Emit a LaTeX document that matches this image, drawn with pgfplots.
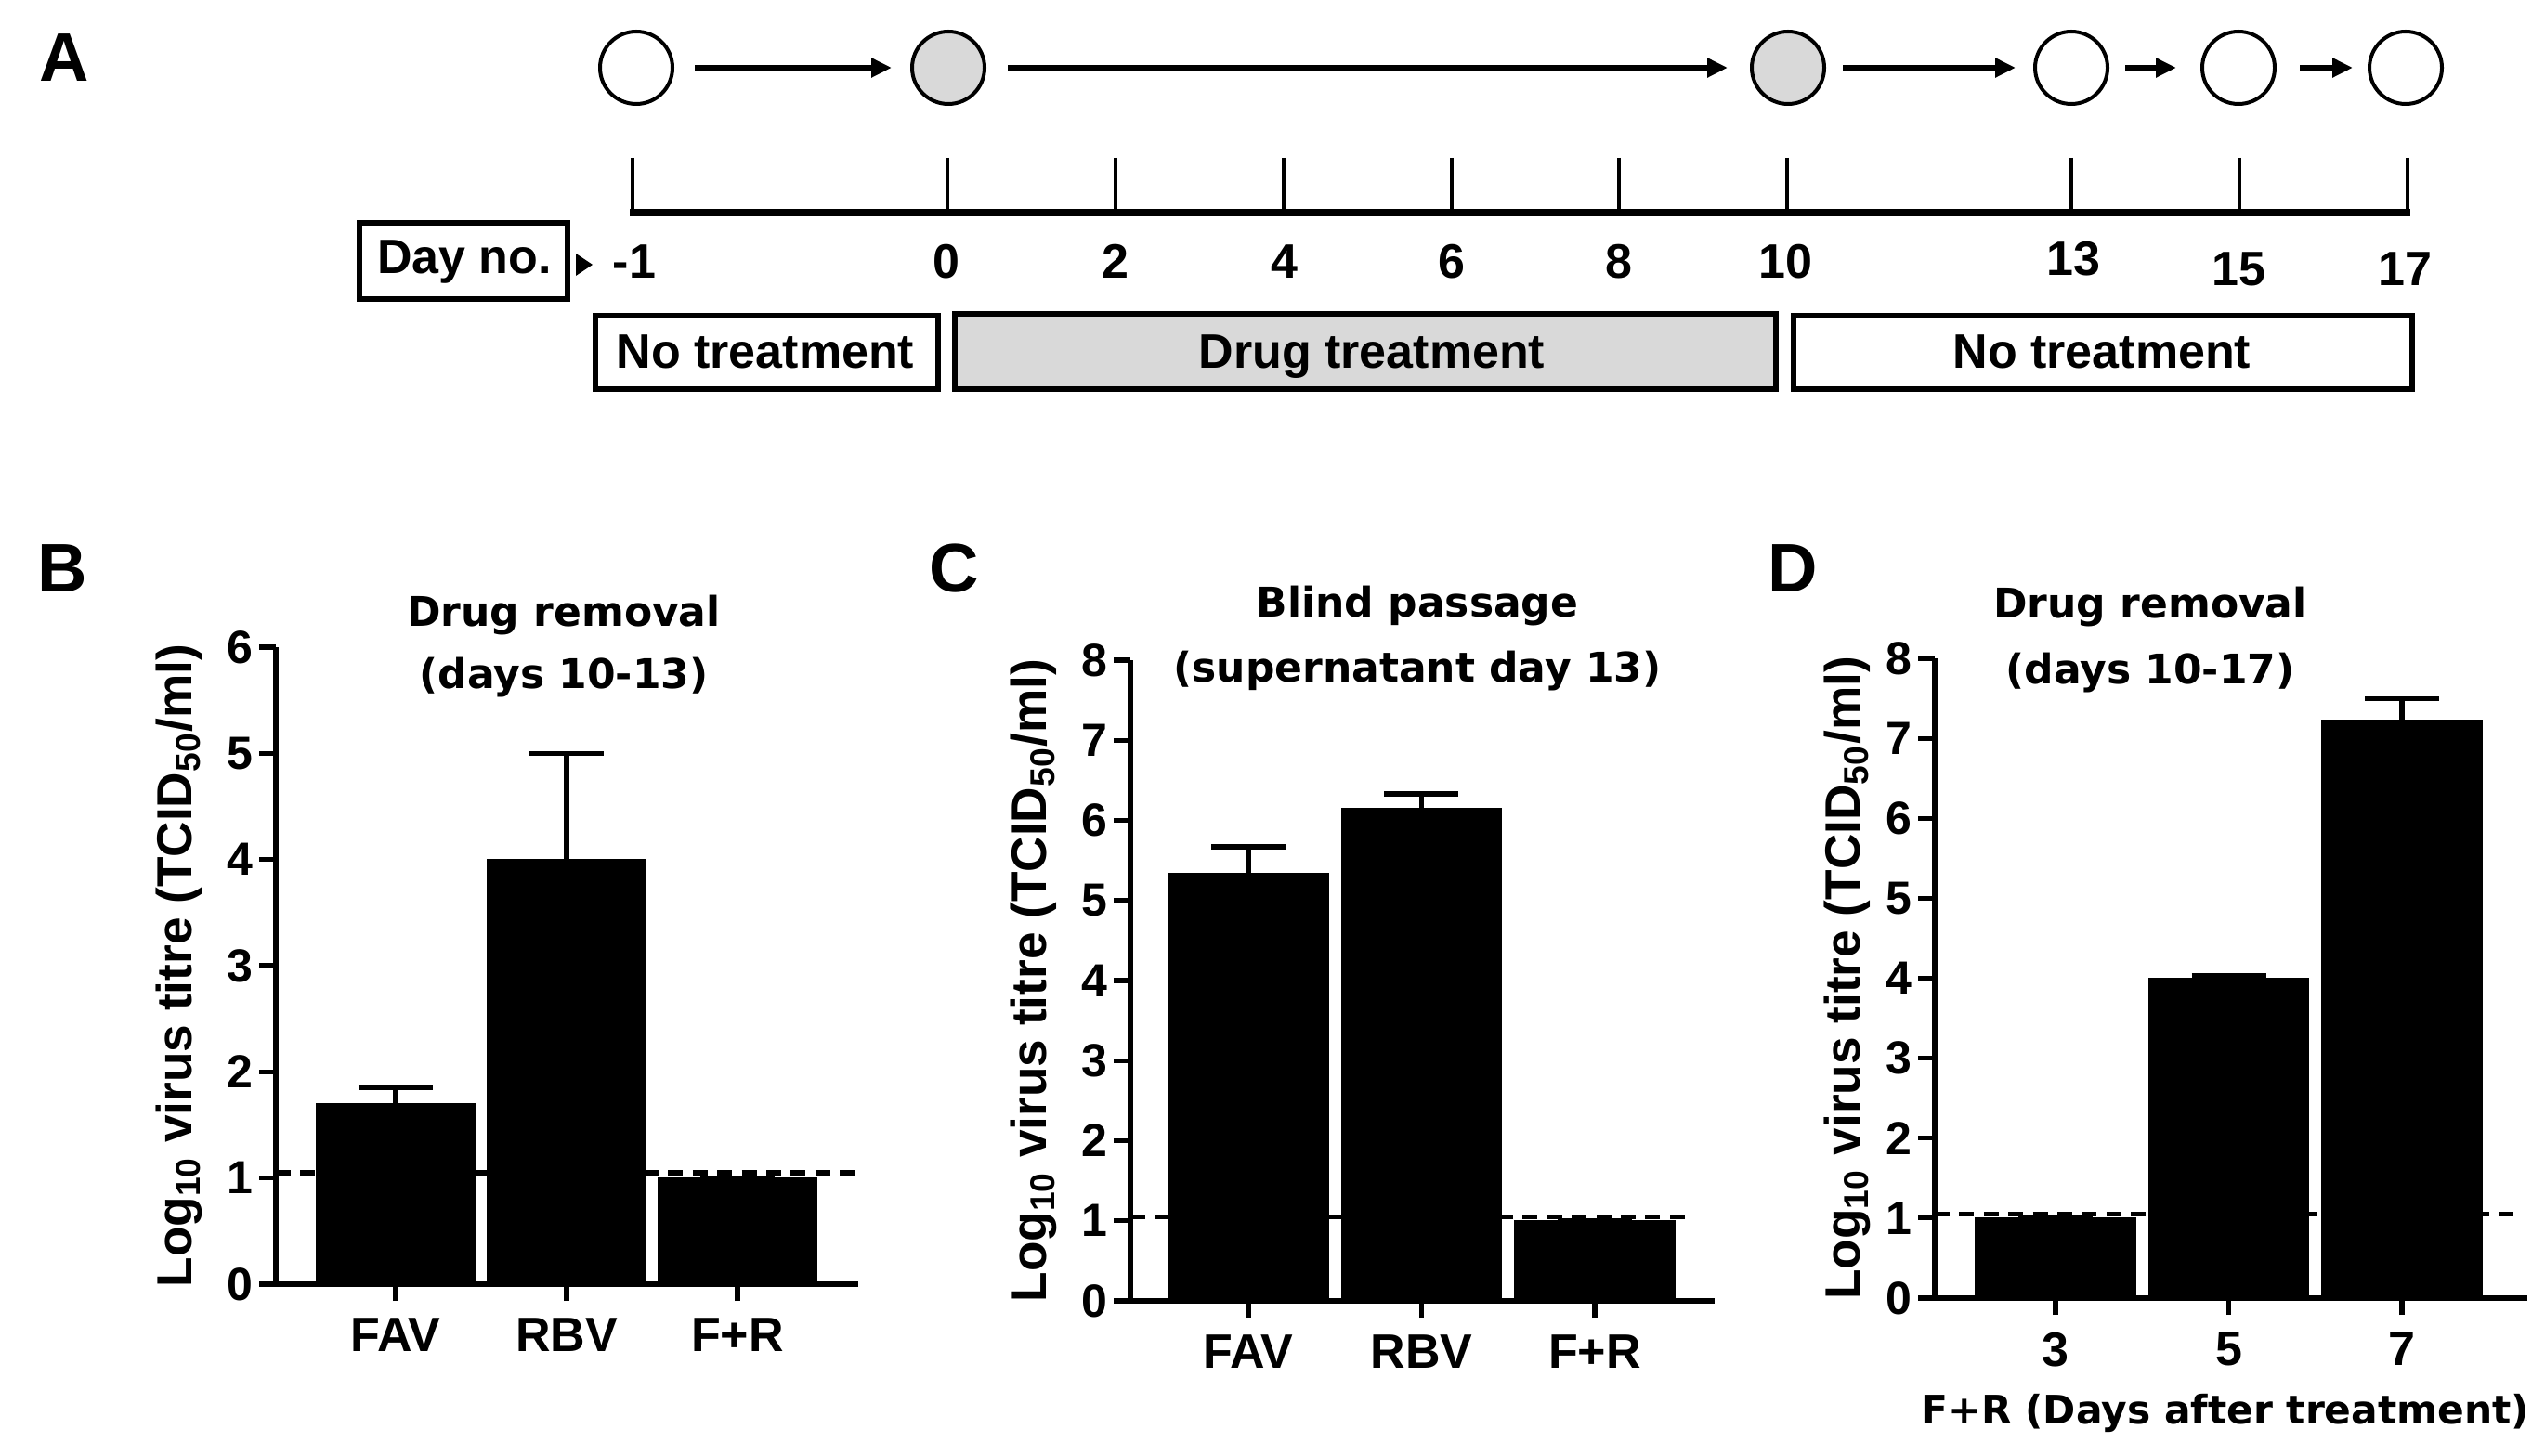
\documentclass[border=0pt]{standalone}
\usepackage{fontspec}
\setmainfont{Liberation Sans}
\newfontfamily\dejavu{DejaVu Sans}
\usepackage{pgfplots}
\pgfplotsset{compat=1.18}
\usetikzlibrary{arrows.meta}
\definecolor{lg}{RGB}{217,217,217}

\newcommand\Afont{\fontsize{13}{15}\selectfont\bfseries}
\newcommand\letfont{\fontsize{18.5}{20}\selectfont\bfseries}
\newcommand\tfont{\fontsize{11}{13}\selectfont\dejavu\bfseries}
\newcommand\xlfont{\fontsize{10.6}{12}\selectfont\dejavu\bfseries}
\newcommand\ylfont{\fontsize{13.3}{15}\selectfont\bfseries}
\newcommand\ytfont{\fontsize{12.5}{14}\selectfont\bfseries}
\newcommand\xtfont{\fontsize{13}{15}\selectfont\bfseries}

\pgfplotsset{
  barpanel/.style={
    scale only axis, anchor=south west, clip=false,
    axis x line=bottom, axis y line=left,
    axis line style={-, line width=1.3pt, black},
    tick align=outside, major tick length=4.5pt,
    tick style={line width=1.3pt, black},
    xtick={1,2,3}, minor tick num=0,
    /pgf/number format/assume math mode=true,
    yticklabel style={font=\ytfont, inner sep=0pt, xshift=-1.5pt},
    xticklabel style={font=\xtfont, inner sep=0pt, yshift=-4.5pt},
    ylabel style={font=\ylfont, anchor=center},
  },
  bars/.style={ybar, bar width=0.92, fill=black, draw=black, line width=0.5pt,
    error bars/y dir=plus, error bars/y explicit,
    error bars/error bar style={line width=1.3pt, black},
    error bars/error mark options={rotate=90, line width=1.3pt, black, mark size=10pt}},
  dline/.style={black, line width=1.3pt, dash pattern=on 4pt off 2.6pt},
}

\begin{document}
\begin{tikzpicture}
\useasboundingbox (0,0) rectangle (685pt,391.75pt);

% ---------------- Panel A and all free text (pixel frame) ----------------
\begin{axis}[at={(0,0)}, anchor=south west, scale only axis,
  width=685pt, height=391.75pt,
  xmin=0, xmax=2740, ymin=-1567, ymax=0, hide axis, clip=false]

% arrows between circles
\addplot[black, line width=1.5pt, -{Triangle[length=5.5pt,width=5pt]}] coordinates {(748,-73) (960,-73)};
\addplot[black, line width=1.5pt, -{Triangle[length=5.5pt,width=5pt]}] coordinates {(1085,-73) (1860,-73)};
\addplot[black, line width=1.5pt, -{Triangle[length=5.5pt,width=5pt]}] coordinates {(1984,-73) (2170,-73)};
\addplot[black, line width=1.5pt, -{Triangle[length=5.5pt,width=5pt]}] coordinates {(2288,-73) (2343,-73)};
\addplot[black, line width=1.5pt, -{Triangle[length=5.5pt,width=5pt]}] coordinates {(2476,-73) (2533,-73)};

% circles
\addplot[only marks, mark=*, mark size=9.75pt, mark options={draw=black, fill=white, line width=1pt}]
  coordinates {(685,-73) (2230,-73) (2410,-73) (2590,-73)};
\addplot[only marks, mark=*, mark size=9.75pt, mark options={draw=black, fill=lg, line width=1pt}]
  coordinates {(1021,-73) (1925,-73)};

% timeline ticks and baseline
\addplot[black, line width=1.1pt, unbounded coords=jump] coordinates {
  (681,-170) (681,-229) (681,nan)
  (1020,-170) (1020,-229) (1020,nan)
  (1201,-170) (1201,-229) (1201,nan)
  (1382,-170) (1382,-229) (1382,nan)
  (1563,-170) (1563,-229) (1563,nan)
  (1743,-170) (1743,-229) (1743,nan)
  (1924,-170) (1924,-229) (1924,nan)
  (2230,-170) (2230,-229) (2230,nan)
  (2411,-170) (2411,-229) (2411,nan)
  (2592,-170) (2592,-229)};
\addplot[black, line width=1.8pt] coordinates {(678,-229) (2595,-229)};

% Day labels
\node[font=\Afont, anchor=base] at (axis cs:683,-300) {-1};
\node[font=\Afont, anchor=base] at (axis cs:1019,-300) {0};
\node[font=\Afont, anchor=base] at (axis cs:1201,-300) {2};
\node[font=\Afont, anchor=base] at (axis cs:1383,-300) {4};
\node[font=\Afont, anchor=base] at (axis cs:1563,-300) {6};
\node[font=\Afont, anchor=base] at (axis cs:1743,-300) {8};
\node[font=\Afont, anchor=base] at (axis cs:1922,-300) {10};
\node[font=\Afont, anchor=base] at (axis cs:2232,-297) {13};
\node[font=\Afont, anchor=base] at (axis cs:2410,-308) {15};
\node[font=\Afont, anchor=base] at (axis cs:2589,-308) {17};

% Day no. box and pointer
\addplot[draw=black, fill=white, line width=1.5pt] coordinates {(387,-240) (611,-240) (611,-322) (387,-322)} --cycle;
\node[font=\Afont, anchor=base] at (axis cs:500,-295) {Day no.};
\addplot[draw=none, fill=black] coordinates {(620,-273) (638,-285) (620,-297)} --cycle;

% treatment boxes
\addplot[draw=black, fill=white, line width=1.5pt] coordinates {(641,-340) (1010,-340) (1010,-419) (641,-419)} --cycle;
\addplot[draw=black, fill=lg, line width=1.5pt] coordinates {(1028,-338) (1912,-338) (1912,-419) (1028,-419)} --cycle;
\addplot[draw=black, fill=white, line width=1.5pt] coordinates {(1931,-340) (2597,-340) (2597,-419) (1931,-419)} --cycle;
\node[font=\Afont, anchor=base] at (axis cs:824,-397) {No treatment};
\node[font=\Afont, anchor=base] at (axis cs:1477,-397) {Drug treatment};
\node[font=\Afont, anchor=base] at (axis cs:2263,-397) {No treatment};

% panel letters
\node[font=\letfont, anchor=base west, inner sep=0pt] at (axis cs:42,-88) {A};
\node[font=\letfont, anchor=base west, inner sep=0pt] at (axis cs:40,-638) {B};
\node[font=\letfont, anchor=base west, inner sep=0pt] at (axis cs:1000,-638) {C};
\node[font=\letfont, anchor=base west, inner sep=0pt] at (axis cs:1903,-638) {D};

% panel titles
\node[font=\tfont, anchor=base] at (axis cs:607,-675) {Drug removal};
\node[font=\tfont, anchor=base] at (axis cs:607,-742) {(days 10-13)};
\node[font=\tfont, anchor=base] at (axis cs:1526,-665) {Blind passage};
\node[font=\tfont, anchor=base] at (axis cs:1526,-735) {(supernatant day 13)};
\node[font=\tfont, anchor=base] at (axis cs:2315,-666) {Drug removal};
\node[font=\tfont, anchor=base] at (axis cs:2315,-737) {(days 10-17)};
\end{axis}

% ---------------- Panel B ----------------
\begin{axis}[barpanel, at={(74.25pt,46pt)}, width=156.75pt, height=171.5pt,
  xmin=0.299, xmax=3.707, ymin=0, ymax=6, ytick={0,1,2,3,4,5,6},
  xticklabels={FAV,RBV,F+R},
  ylabel={Log\textsubscript{10} virus titre (TCID\textsubscript{50}/ml)},
  ylabel style={at={(axis description cs:-0.166,0.5)}}]
\addplot[bars] coordinates {(1,1.70) +- (0,0.15) (2,4.00) +- (0,1.00) (3,1.00) +- (0,0)};
\addplot[dline] coordinates {(0.299,1.05) (3.70,1.05)};
\end{axis}

% ---------------- Panel C ----------------
\begin{axis}[barpanel, at={(304.25pt,41.5pt)}, width=157.25pt, height=172.5pt,
  xmin=0.319, xmax=3.692, ymin=0, ymax=8, ytick={0,1,2,3,4,5,6,7,8},
  xticklabels={FAV,RBV,F+R},
  ylabel={Log\textsubscript{10} virus titre (TCID\textsubscript{50}/ml)},
  ylabel style={at={(axis description cs:-0.165,0.5)}}]
\addplot[bars] coordinates {(1,5.33) +- (0,0.34) (2,6.14) +- (0,0.19) (3,1.00) +- (0,0)};
\addplot[dline] coordinates {(0.319,1.05) (3.57,1.05)};
\end{axis}

% ---------------- Panel D ----------------
\begin{axis}[barpanel, at={(520.75pt,42.25pt)}, width=159.5pt, height=172.25pt,
  xmin=0.303, xmax=3.724, ymin=0, ymax=8, ytick={0,1,2,3,4,5,6,7,8},
  xticklabels={3,5,7},
  ylabel={Log\textsubscript{10} virus titre (TCID\textsubscript{50}/ml)},
  ylabel style={at={(axis description cs:-0.147,0.5)}},
  xlabel={F+R (Days after treatment)},
  xlabel style={font=\xlfont, at={(axis description cs:0.4906,-0.196)}, anchor=base}]
\addplot[bars] coordinates {(1,1.00) +- (0,0) (2,4.00) +- (0,0.03) (3,7.22) +- (0,0.28)};
\addplot[dline] coordinates {(0.303,1.05) (3.65,1.05)};
\end{axis}
\end{tikzpicture}
\end{document}
